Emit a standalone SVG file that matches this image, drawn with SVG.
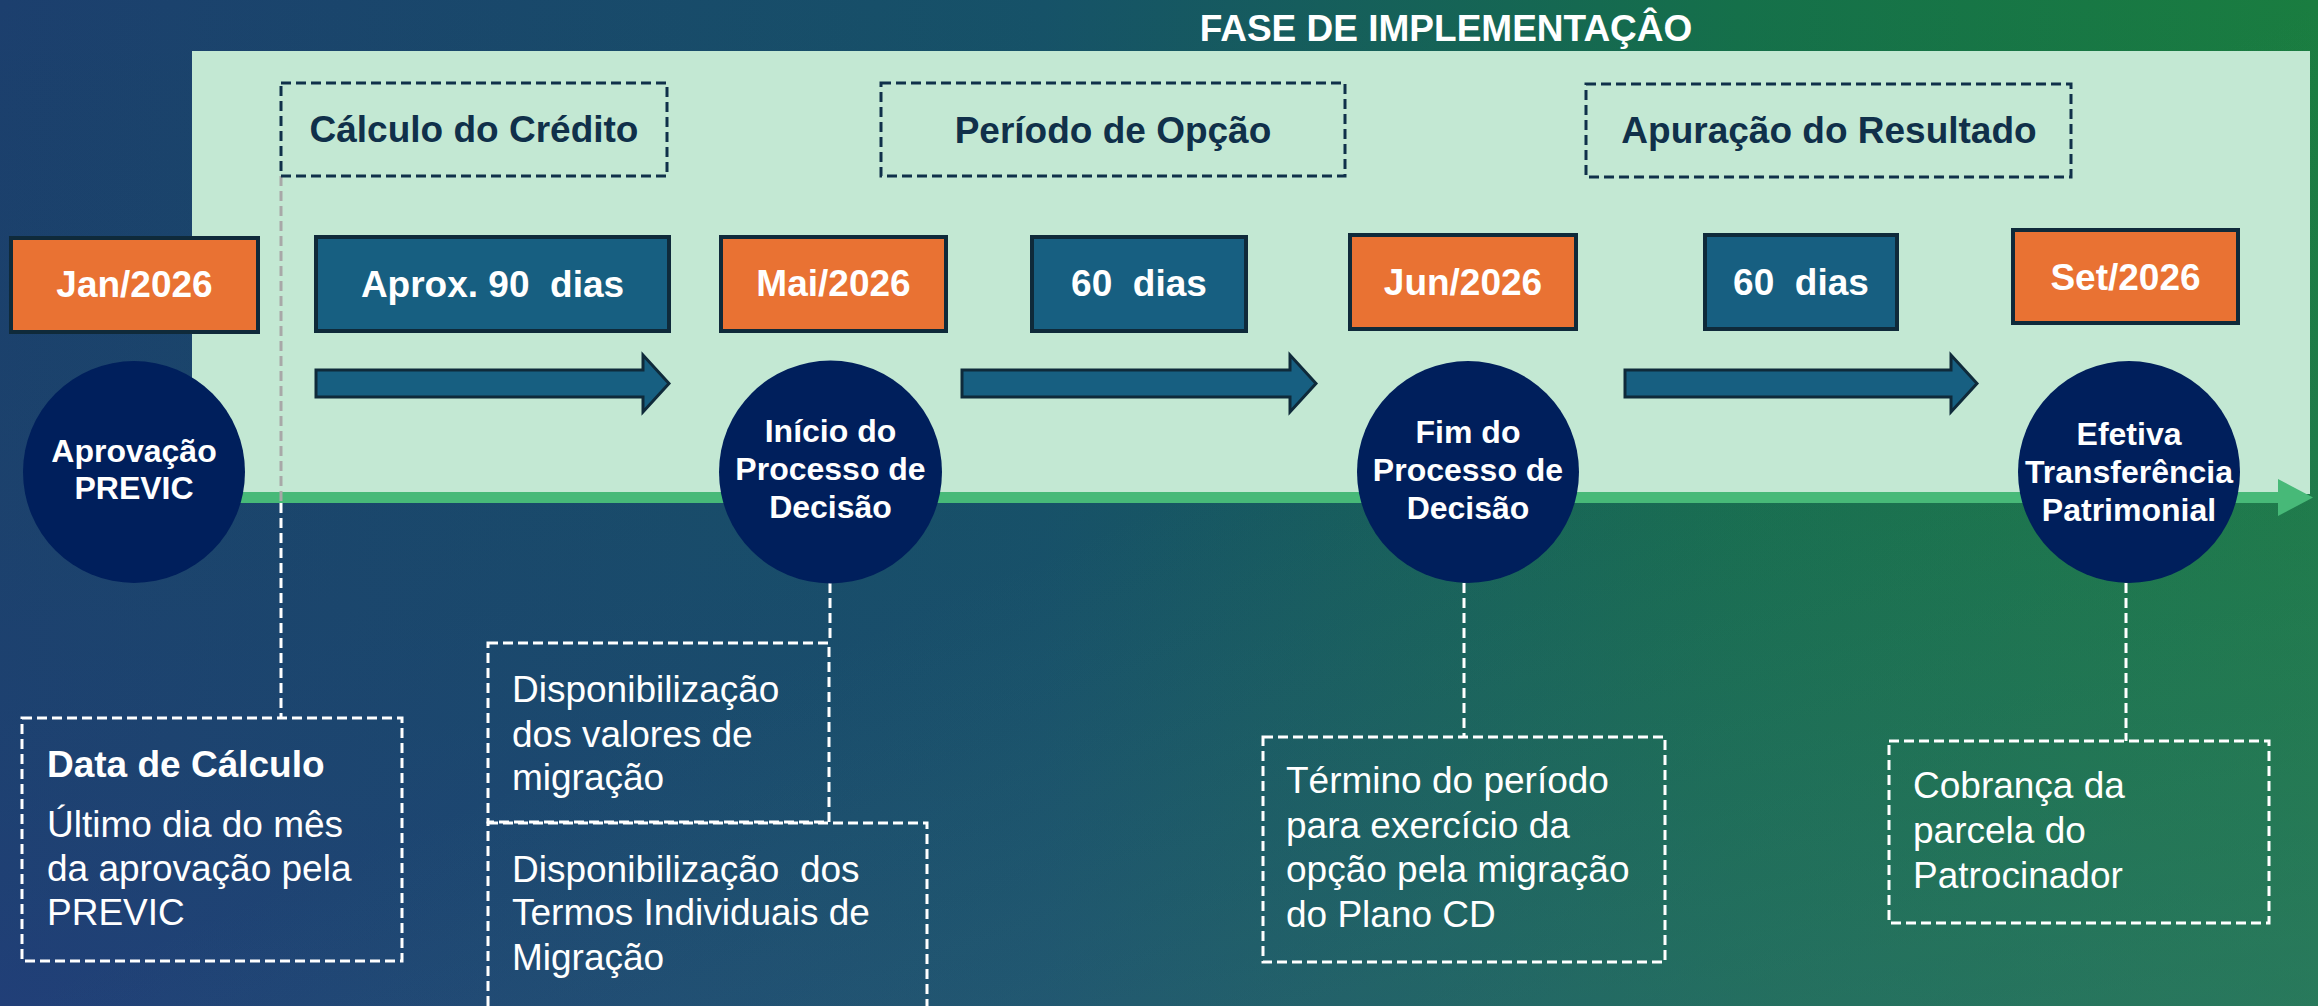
<svg xmlns="http://www.w3.org/2000/svg" width="2318" height="1006" viewBox="0 0 2318 1006">
<defs>
<linearGradient id="bg" x1="0" y1="0" x2="1" y2="0">
<stop offset="0" stop-color="#1c3f6e"/>
<stop offset="0.45" stop-color="#165268"/>
<stop offset="0.75" stop-color="#15704a"/>
<stop offset="1" stop-color="#1a7d40"/>
</linearGradient>
<linearGradient id="ov" x1="0" y1="0" x2="0" y2="1">
<stop offset="0" stop-color="#0e5a4a" stop-opacity="0"/>
<stop offset="1" stop-color="#2a3f8a" stop-opacity="0.35"/>
</linearGradient>
<linearGradient id="ov2" x1="0" y1="0" x2="1" y2="1">
<stop offset="0.5" stop-color="#3a9a60" stop-opacity="0"/>
<stop offset="1" stop-color="#3a9a60" stop-opacity="0.35"/>
</linearGradient>
<style>
.t{font-family:"Liberation Sans",Arial,sans-serif}
.b{font-weight:bold}
.w{fill:#ffffff}
.lbl{fill:#10304a;font-size:37px;font-weight:bold;text-anchor:middle}
.dbox{fill:none;stroke:#10304a;stroke-width:3;stroke-dasharray:10 5}
.wbox{fill:none;stroke:#ffffff;stroke-width:3;stroke-dasharray:10 5}
.wline{stroke:#ffffff;stroke-width:3;stroke-dasharray:10 5;fill:none}
.org{fill:#e97233;stroke:#0f2a3a;stroke-width:4}
.blu{fill:#175f81;stroke:#0f2a3a;stroke-width:4}
.arr{fill:#175f81;stroke:#0f2a3a;stroke-width:3}
.circ{fill:#001f5c}
.bt{font-size:37px;font-weight:bold;fill:#ffffff;text-anchor:middle}
.ct{font-size:32px;font-weight:bold;fill:#ffffff;text-anchor:middle}
.nt{font-size:37px;fill:#ffffff}
</style>
</defs>
<g id="background">
<rect x="0" y="0" width="2318" height="1006" fill="url(#bg)"/>
<rect x="0" y="0" width="2318" height="1006" fill="url(#ov)"/>
<rect x="0" y="0" width="2318" height="1006" fill="url(#ov2)"/>
</g>
<g id="panel">
<rect x="192" y="51" width="2118" height="443" fill="#c3e8d3"/>
<text class="t b w" x="1446" y="41" font-size="37" text-anchor="middle">FASE DE IMPLEMENTAÇÂO</text>
</g>
<g id="connectors">
<rect x="192" y="492" width="2088" height="11" fill="#47b978"/>
<polygon points="2278,479 2313,497.5 2278,516" fill="#47b978"/>
<line x1="281" y1="176" x2="281" y2="503" stroke="#a8a8a8" stroke-width="3" stroke-dasharray="10 5"/>
<line class="wline" x1="281" y1="503" x2="281" y2="718"/>
<line class="wline" x1="830" y1="583" x2="830" y2="643"/>
<line class="wline" x1="1464" y1="583" x2="1464" y2="737"/>
<line class="wline" x1="2126" y1="583" x2="2126" y2="741"/>
<polygon class="arr" points="316,370 643,370 643,355 669,383.5 643,412 643,397 316,397"/>
<polygon class="arr" points="962,370 1290,370 1290,355 1316,383.5 1290,412 1290,397 962,397"/>
<polygon class="arr" points="1625,370 1951,370 1951,355 1977,383.5 1951,412 1951,397 1625,397"/>
</g>
<g id="calculo-credito">
<rect class="dbox" x="281" y="83" width="386" height="93"/>
<text class="t lbl" x="474" y="142">Cálculo do Crédito</text>
</g>
<g id="periodo-opcao">
<rect class="dbox" x="881" y="83" width="464" height="93"/>
<text class="t lbl" x="1113" y="143">Período de Opção</text>
</g>
<g id="apuracao-resultado">
<rect class="dbox" x="1586" y="84" width="485" height="93"/>
<text class="t lbl" x="1829" y="143">Apuração do Resultado</text>
</g>
<g id="jan2026">
<rect class="org" x="11" y="238" width="247" height="94"/>
<text class="t bt" x="134.5" y="297">Jan/2026</text>
</g>
<g id="aprox90">
<rect class="blu" x="316" y="237" width="353" height="94"/>
<text class="t bt" x="492.5" y="297" style="white-space:pre">Aprox. 90  dias</text>
</g>
<g id="mai2026">
<rect class="org" x="721" y="237" width="225" height="94"/>
<text class="t bt" x="833.5" y="296">Mai/2026</text>
</g>
<g id="dias60a">
<rect class="blu" x="1032" y="237" width="214" height="94"/>
<text class="t bt" x="1139" y="296" style="white-space:pre">60  dias</text>
</g>
<g id="jun2026">
<rect class="org" x="1350" y="235" width="226" height="94"/>
<text class="t bt" x="1463" y="295">Jun/2026</text>
</g>
<g id="dias60b">
<rect class="blu" x="1705" y="235" width="192" height="94"/>
<text class="t bt" x="1801" y="295" style="white-space:pre">60  dias</text>
</g>
<g id="set2026">
<rect class="org" x="2013" y="230" width="225" height="93"/>
<text class="t bt" x="2125.5" y="290">Set/2026</text>
</g>
<g id="aprovacao-previc">
<circle class="circ" cx="134" cy="472" r="111"/>
<text class="t ct" x="134" y="462">Aprovação</text>
<text class="t ct" x="134" y="499">PREVIC</text>
</g>
<g id="inicio-processo">
<circle class="circ" cx="830.5" cy="472" r="111.5"/>
<text class="t ct" x="830.5" y="442">Início do</text>
<text class="t ct" x="830.5" y="480">Processo de</text>
<text class="t ct" x="830.5" y="518">Decisão</text>
</g>
<g id="fim-processo">
<circle class="circ" cx="1468" cy="472" r="111"/>
<text class="t ct" x="1468" y="443">Fim do</text>
<text class="t ct" x="1468" y="481">Processo de</text>
<text class="t ct" x="1468" y="519">Decisão</text>
</g>
<g id="efetiva-transferencia">
<circle class="circ" cx="2129" cy="472" r="111"/>
<text class="t ct" x="2129" y="445">Efetiva</text>
<text class="t ct" x="2129" y="483">Transferência</text>
<text class="t ct" x="2129" y="521">Patrimonial</text>
</g>
<g id="data-calculo">
<rect class="wbox" x="22" y="718" width="380" height="243"/>
<text class="t b w" x="47" y="777" font-size="37">Data de Cálculo</text>
<text class="t nt" x="47" y="837">Último dia do mês</text>
<text class="t nt" x="47" y="881">da aprovação pela</text>
<text class="t nt" x="47" y="925">PREVIC</text>
</g>
<g id="disp-valores">
<rect class="wbox" x="488" y="643" width="341" height="179"/>
<text class="t nt" x="512" y="702">Disponibilização</text>
<text class="t nt" x="512" y="747">dos valores de</text>
<text class="t nt" x="512" y="790">migração</text>
</g>
<g id="disp-termos">
<rect class="wbox" x="488" y="823" width="439" height="200"/>
<text class="t nt" x="512" y="882" style="white-space:pre">Disponibilização  dos</text>
<text class="t nt" x="512" y="925">Termos Individuais de</text>
<text class="t nt" x="512" y="970">Migração</text>
</g>
<g id="termino-periodo">
<rect class="wbox" x="1263" y="737" width="402" height="225"/>
<text class="t nt" x="1286" y="793">Término do período</text>
<text class="t nt" x="1286" y="838">para exercício da</text>
<text class="t nt" x="1286" y="882">opção pela migração</text>
<text class="t nt" x="1286" y="927">do Plano CD</text>
</g>
<g id="cobranca-parcela">
<rect class="wbox" x="1889" y="741" width="380" height="182"/>
<text class="t nt" x="1913" y="798">Cobrança da</text>
<text class="t nt" x="1913" y="843">parcela do</text>
<text class="t nt" x="1913" y="888">Patrocinador</text>
</g>
</svg>
